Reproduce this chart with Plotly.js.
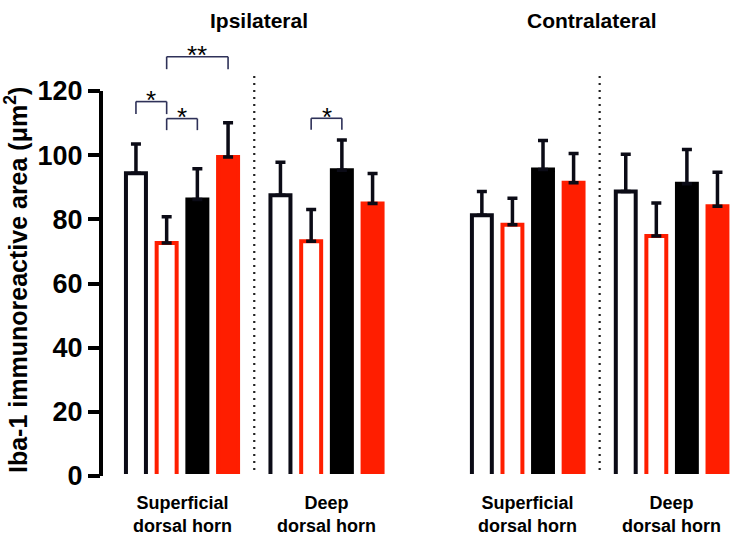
<!DOCTYPE html>
<html><head><meta charset="utf-8">
<script src="https://cdn.plot.ly/plotly-3.0.1.min.js"></script>
<style>html,body{margin:0;padding:0;background:#fff}#chart{width:730px;height:538px}</style>
</head><body><div id="chart"></div>
<script>
// ---- data ----
const categories = ['Superficial dorsal horn', 'Deep dorsal horn'];
const categoryLabels = ['Superficial<br>dorsal horn', 'Deep<br>dorsal horn'];
const panels = ['Ipsilateral', 'Contralateral'];
const seriesNames = ['Open black', 'Open red', 'Filled black', 'Filled red'];

const openBlackIpsi = [94.4, 87.5];
const openBlackContra = [81.3, 88.7];
const openBlackIpsiErr = [9.1, 10.3];
const openBlackContraErr = [7.4, 11.6];

const openRedIpsi = [72.6, 73.2];
const openRedContra = [78.3, 74.8];
const openRedIpsiErr = [8.2, 9.9];
const openRedContraErr = [8.3, 10.3];

const filledBlackIpsi = [86.2, 95.3];
const filledBlackContra = [95.5, 91.1];
const filledBlackIpsiErr = [9.6, 9.4];
const filledBlackContraErr = [9.1, 10.7];

const filledRedIpsi = [99.4, 84.9];
const filledRedContra = [91.4, 84.1];
const filledRedIpsiErr = [10.7, 9.4];
const filledRedContraErr = [9.1, 10.6];

const yTicks = [0, 20, 40, 60, 80, 100, 120];

// significance brackets (ipsilateral panel)
const sigCategory = [0, 0, 0, 1];
const sigFrom = [0, 1, 1, 1];
const sigTo = [1, 2, 3, 2];
const sigTop = [116.7, 111.4, 130.7, 111.5];
const sigLeg = [112.8, 107.8, 126.8, 107.9];
const sigLabel = ['*', '*', '**', '*'];

// ---- styling ----
const RED = '#ff1e00';
const DARK = '#0b0b16';
const FONT = 'Liberation Sans, Arial, Helvetica, sans-serif';
const BARGAP = 0.15, GROUPGAP = 0.349;
const slot = (1 - BARGAP) / 4;
const styles = [
  {fill: '#ffffff', line: DARK},
  {fill: '#ffffff', line: RED},
  {fill: '#000000', line: '#000000'},
  {fill: RED, line: RED}
];
const panelData = [
  {axis: 'x', vals: [openBlackIpsi, openRedIpsi, filledBlackIpsi, filledRedIpsi],
   errs: [openBlackIpsiErr, openRedIpsiErr, filledBlackIpsiErr, filledRedIpsiErr]},
  {axis: 'x2', vals: [openBlackContra, openRedContra, filledBlackContra, filledRedContra],
   errs: [openBlackContraErr, openRedContraErr, filledBlackContraErr, filledRedContraErr]}
];

const traces = [];
panelData.forEach((p, pi) => {
  p.vals.forEach((v, si) => {
    traces.push({
      type: 'bar', x: categories, y: v, xaxis: p.axis, yaxis: 'y',
      name: panels[pi] + ' – ' + seriesNames[si], showlegend: false,
      marker: {color: styles[si].fill, line: {color: styles[si].line, width: 4}},
      error_y: {type: 'data', symmetric: false, array: p.errs[si],
                arrayminus: p.errs[si].map(() => 0), color: DARK, thickness: 3.5, width: 5},
      hoverinfo: 'y'
    });
  });
});

const shapes = [];
const annotations = [];
// y axis line 0..120
shapes.push({type: 'line', xref: 'paper', yref: 'y', x0: 0, x1: 0, y0: yTicks[0], y1: yTicks[yTicks.length - 1],
             line: {color: '#000', width: 4}});
// hide bottom stroke of open bars
shapes.push({type: 'line', xref: 'paper', yref: 'y', x0: 0.006, x1: 1, y0: 0, y1: 0,
             line: {color: '#fff', width: 4}, layer: 'above'});
// dotted separators
['x', 'x2'].forEach(ax => {
  shapes.push({type: 'line', xref: ax, yref: 'y', x0: 0.5, x1: 0.5, y0: 1.9, y1: 124.7,
               line: {color: '#222', width: 2.2, dash: '2px,5px'}});
});
// brackets
const barPos = (c, k) => c + (k - 1.5) * slot;
const BR = '#2e3158';
sigLabel.forEach((lab, i) => {
  const xa = barPos(sigCategory[i], sigFrom[i]);
  const xb = barPos(sigCategory[i], sigTo[i]);
  const ln = {color: BR, width: 1.6};
  shapes.push({type: 'line', xref: 'x', yref: 'y', x0: xa, x1: xb, y0: sigTop[i], y1: sigTop[i], line: ln});
  shapes.push({type: 'line', xref: 'x', yref: 'y', x0: xa, x1: xa, y0: sigTop[i], y1: sigLeg[i], line: ln});
  shapes.push({type: 'line', xref: 'x', yref: 'y', x0: xb, x1: xb, y0: sigTop[i], y1: sigLeg[i], line: ln});
  annotations.push({xref: 'x', yref: 'y', x: (xa + xb) / 2, y: sigTop[i], text: lab, showarrow: false,
                    yanchor: 'middle', yshift: 1.5, font: {family: FONT, size: 26, color: '#000'}});
});
// panel titles
annotations.push({xref: 'x domain', yref: 'paper', x: 0.5, y: 1, xshift: 8.5, yshift: 20, yanchor: 'middle',
                  text: panels[0], showarrow: false, font: {family: FONT, size: 21, weight: 'bold', color: '#000'}});
annotations.push({xref: 'x2 domain', yref: 'paper', x: 0.5, y: 1, xshift: 7, yshift: 20, yanchor: 'middle',
                  text: panels[1], showarrow: false, font: {family: FONT, size: 21, weight: 'bold', color: '#000'}});
// category labels
['x', 'x2'].forEach(ax => {
  categories.forEach((c, ci) => {
    annotations.push({xref: ax, yref: 'paper', x: c, y: 0, yanchor: 'middle', yshift: -38,
                      text: categoryLabels[ci], showarrow: false, align: 'center',
                      font: {family: FONT, size: 18, weight: 'bold', color: '#000'}});
  });
});
// y title
annotations.push({xref: 'paper', yref: 'paper', x: 0, y: 0, xshift: -85, yshift: 196, xanchor: 'center', yanchor: 'middle',
                  textangle: -90, text: 'Iba-1 immunoreactive area (μm<sup>2</sup>)', showarrow: false,
                  font: {family: FONT, size: 25, weight: 'bold', color: '#000'}});

const layout = {
  width: 730, height: 538, autosize: false,
  margin: {l: 101, r: 0, t: 40, b: 62, pad: 0},
  paper_bgcolor: '#fff', plot_bgcolor: '#fff',
  barmode: 'group', bargap: BARGAP, bargroupgap: GROUPGAP,
  showlegend: false,
  xaxis: {domain: [0, 0.4754], anchor: 'y', type: 'category', range: [-0.5606, 1.5087],
          showline: false, showgrid: false, zeroline: false, ticks: '', showticklabels: false, fixedrange: true},
  xaxis2: {domain: [0.539, 1], anchor: 'y', type: 'category', range: [-0.6095, 1.4058],
           showline: false, showgrid: false, zeroline: false, ticks: '', showticklabels: false, fixedrange: true},
  yaxis: {anchor: 'x', range: [0, 135.9], tickvals: yTicks, ticktext: yTicks.map(String),
          ticks: 'outside', ticklen: 12, tickwidth: 4, tickcolor: '#000',
          showline: false, showgrid: false, zeroline: false, fixedrange: true,
          tickfont: {family: FONT, size: 27, weight: 'bold', color: '#000'}},
  shapes: shapes,
  annotations: annotations
};

Plotly.newPlot('chart', traces, layout, {displayModeBar: false, staticPlot: true});
</script>
</body></html>
